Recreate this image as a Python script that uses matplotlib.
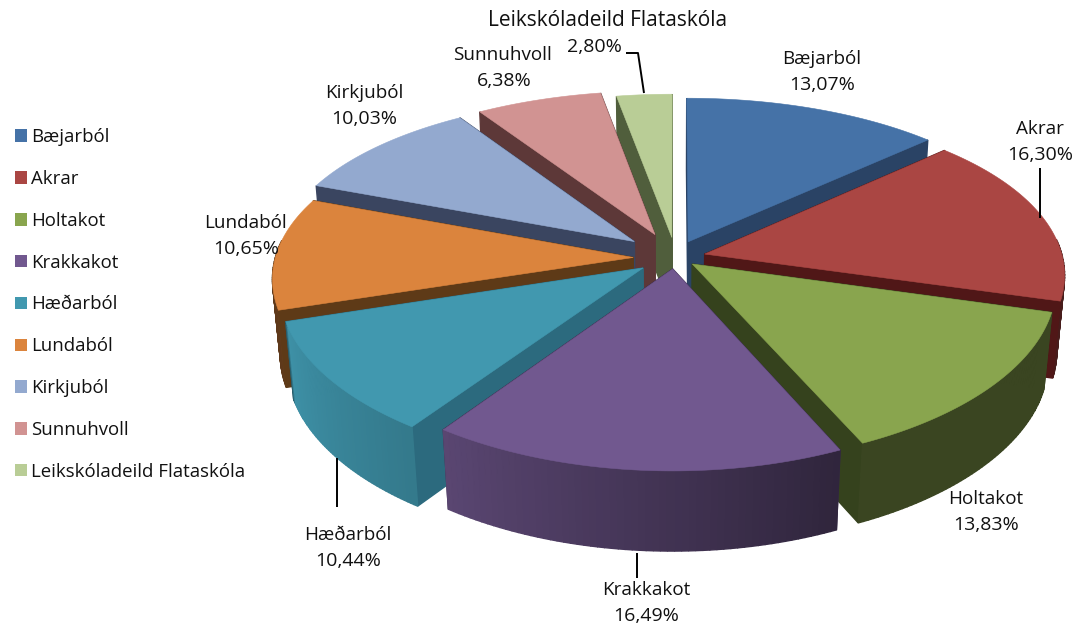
import numpy as np
import matplotlib
matplotlib.use('Agg')
import matplotlib.pyplot as plt
from matplotlib.patches import Patch, Polygon

plt.rcParams['font.family'] = ['Open Sans', 'DejaVu Sans']

names = ['Bæjarból', 'Akrar', 'Holtakot', 'Krakkakot', 'Hæðarból', 'Lundaból',
         'Kirkjuból', 'Sunnuhvoll', 'Leikskóladeild Flataskóla']
values = [13.07, 16.30, 13.83, 16.49, 10.44, 10.65, 10.03, 6.38, 2.80]

top_colors = ['#4572A7', '#AA4643', '#89A54E', '#71588F', '#4198AF',
              '#DB843D', '#93A9CF', '#D19392', '#B9CD96']
wall_colors = ['#2A4365', '#501717', '#35421D', '#3A2D4C', '#2C6A7E',
               '#5E3A17', '#3A4560', '#5D3838', '#505E3C']

# where the labels sit, in pixels
label_xy = [(822, 72), (1040, 142), (986, 512), (646, 603), (348, 548),
            (246, 236), (364, 106), (503, 68), (608, 34)]
value_dx = [0, 0, 0, 0, 0, 0, 0, 1, -14]
name_size = [13.6, 13.6, 13.6, 13.6, 13.6, 13.6, 13.6, 13.6, 15]
leaders = [[(1040, 168), (1040, 218)],
           [(637, 553), (637, 578)],
           [(337, 458), (337, 507)],
           [(626, 53), (638, 53), (644, 93)]]

# pie geometry
cx, cy = 671, 257
rx, ry = 358, 168
px, py = 0.115, 0.142
explode = 0.1
depth = 76
# small per slice shifts, the slices do not sit on one circle
nudge = [(3, 0), (-1, 1), (-6, -4), (5, -5), (1, 1), (-2, 1), (-9, -5), (-3, -7), (4, -3)]


def project(u, v, z=0.0):
    s = 1 / (1 + px * v + 0.02 * z)
    x = cx + rx * u * s
    y = cy - ry * v / (1 + py * v) + z * depth * (1 - 0.05 * v)
    return x, y


def wall_shade(deg):
    # outer wall is lit from the left
    return np.interp(deg, [100, 155, 215, 250, 252.6, 360], [0.42, 0.42, 0.80, 0.95, 0.43, 0.43])


fig = plt.figure(figsize=(10.8, 6.3), dpi=100, facecolor='w')
ax = fig.add_axes([0, 0, 1, 1])
ax.set_xlim(0, 1080)
ax.set_ylim(630, 0)
ax.axis('off')

edges = np.cumsum([0] + values) / sum(values) * 2 * np.pi
mids = (edges[:-1] + edges[1:]) / 2

for i in np.argsort(-np.cos(mids)):
    a0, a1 = edges[i], edges[i + 1]
    du = explode * np.sin(mids[i])
    dv = explode * np.cos(mids[i])
    ang = np.linspace(a0, a1, 60)
    us = du + np.sin(ang)
    vs = dv + np.cos(ang)
    base = matplotlib.colors.to_rgb(top_colors[i])
    off = np.array(nudge[i])

    faces = []
    # radial side walls
    for us_, vs_, nrm in [(us[0], vs[0], a0 - np.pi / 2), (us[-1], vs[-1], a1 + np.pi / 2)]:
        quad = [project(du, dv), project(us_, vs_), project(us_, vs_, 1), project(du, dv, 1)]
        faces.append((np.cos(nrm), quad, wall_colors[i]))
    # outer wall in small strips, for the shading; the back of the arc is hidden anyway
    for k in range(len(ang) - 1):
        if np.cos(ang[k]) > 0.1:
            continue
        quad = [project(us[k], vs[k]), project(us[k + 1], vs[k + 1]),
                project(us[k + 1], vs[k + 1], 1), project(us[k], vs[k], 1)]
        f = wall_shade(np.degrees(ang[k]))
        col = tuple(c * f for c in base)
        faces.append((np.cos(ang[k]), quad, col))
    faces.sort(key=lambda t: -t[0])
    for _, quad, col in faces:
        ax.add_patch(Polygon(np.array(quad) + off, closed=True, facecolor=col, edgecolor=col, linewidth=1.0))

    outline = [project(du, dv)] + [project(u, v) for u, v in zip(us, vs)]
    ax.add_patch(Polygon(np.array(outline) + off, closed=True, facecolor=top_colors[i],
                         edgecolor=top_colors[i], linewidth=0.4))

for pts in leaders:
    xs, ys = zip(*pts)
    ax.plot(xs, ys, color='k', lw=1.4, solid_capstyle='butt')

for name, val, (x, y), dx, size in zip(names, values, label_xy, value_dx, name_size):
    ax.text(x, y - 13, name, ha='center', va='center', fontsize=size, color='#111111')
    ax.text(x + dx, y + 13, f'{val:.2f}'.replace('.', ',') + '%', ha='center', va='center',
            fontsize=14, color='#111111')

handles = [Patch(facecolor=c, edgecolor='none') for c in top_colors]
ax.legend(handles, names, loc='upper left', bbox_to_anchor=(0.0139, 0.7965), frameon=False,
          fontsize=13.4, labelspacing=1.28, handlelength=0.65, handleheight=0.65, handletextpad=0.22,
          labelcolor='#111111', borderpad=0, borderaxespad=0)

fig.savefig('out.png', dpi=100)
